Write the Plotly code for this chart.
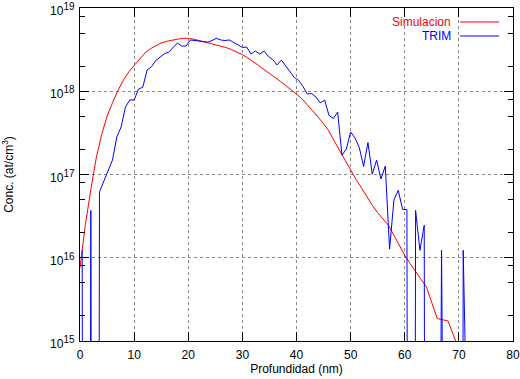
import plotly.graph_objects as go

# ---- data ----
sim_depth = [0, 1, 2, 3, 4, 5, 6, 7, 8, 9, 10, 11, 12, 13, 14, 15, 16, 17, 18, 19,
             20, 21, 22, 23, 24, 25, 26, 27, 28, 29, 30, 31, 32, 33, 34, 35, 36, 37, 38, 39,
             40, 41, 42, 43, 44, 45, 46, 47, 48, 49, 50, 51, 52, 53, 54, 55, 56, 57, 58, 59,
             60, 61, 62, 63, 64, 65, 66, 67, 68, 69, 70]
sim_conc = [7.59e15, 2.51e16, 6.61e16, 1.58e17, 3.02e17, 5.01e17, 7.24e17, 1.02e18, 1.35e18, 1.70e18,
            2.04e18, 2.45e18, 2.88e18, 3.24e18, 3.55e18, 3.80e18, 3.98e18, 4.12e18, 4.22e18, 4.32e18,
            4.32e18, 4.22e18, 4.07e18, 3.94e18, 3.80e18, 3.67e18, 3.51e18, 3.35e18, 3.16e18, 2.95e18,
            2.75e18, 2.51e18, 2.29e18, 2.04e18, 1.82e18, 1.64e18, 1.48e18, 1.32e18, 1.17e18, 1.05e18,
            9.23e17, 8.13e17, 6.92e17, 5.89e17, 4.90e17, 4.07e17, 3.31e17, 2.51e17, 1.91e17, 1.51e17,
            1.12e17, 8.71e16, 6.92e16, 5.37e16, 4.27e16, 3.47e16, 2.95e16, 2.45e16, 1.86e16, 1.38e16,
            1.07e16, 8.51e15, 6.76e15, 5.50e15, 4.47e15, 2.82e15, 1.86e15, 1.80e15, 1.74e15, 1.17e15,
            7.94e14]

trim_depth = [0.4, 1.2, 2.0, 2.8, 3.6, 4.4, 5.2, 6.0, 6.8, 7.6, 8.4, 9.2, 10.0, 10.8, 11.6, 12.4,
              13.2, 14.0, 14.8, 15.6, 16.4, 17.2, 18.0, 18.8, 19.6, 20.4, 21.2, 22.0, 22.8, 23.6,
              24.4, 25.2, 26.0, 26.8, 27.6, 28.4, 29.2, 30.0, 30.8, 31.6, 32.4, 33.2, 34.0, 34.8,
              35.6, 36.4, 37.2, 38.0, 38.8, 39.6, 40.4, 41.2, 42.0, 42.8, 43.6, 44.4, 45.2, 46.0,
              46.8, 47.6, 48.4, 49.2, 50.0, 50.8, 51.6, 52.4, 53.2, 54.0, 54.8, 55.6, 56.4, 57.2,
              58.0, 58.8, 59.6, 60.4, 61.2, 62.0, 62.8, 63.6, 64.4, 65.2, 66.0, 66.8, 67.6, 68.4,
              69.2, 70.0, 70.8, 71.6, 72.4, 73.2, 74.0, 74.8, 75.6, 76.4, 77.2, 78.0, 78.8, 79.6]
trim_conc = [1.23e16, 0, 3.7e16, 0, 6.2e16, 8.3e16, 1.08e17, 1.49e17, 2.82e17, 3.72e17, 6.46e17, 7.85e17,
             7.85e17, 1.06e18, 1.12e18, 1.80e18, 1.97e18, 2.34e18, 2.57e18, 2.82e18, 2.95e18, 3.39e18,
             3.80e18, 3.49e18, 3.49e18, 4.13e18, 4.07e18, 4.02e18, 4.02e18, 3.89e18, 4.07e18, 4.33e18,
             4.13e18, 4.07e18, 4.13e18, 3.85e18, 3.55e18, 3.36e18, 3.39e18, 2.80e18, 3.04e18, 2.80e18,
             3.04e18, 2.63e18, 2.40e18, 2.07e18, 2.37e18, 2.01e18, 1.70e18, 1.46e18, 1.35e18, 1.14e18,
             9.27e17, 9.40e17, 8.51e17, 7.24e17, 7.85e17, 5.13e17, 4.71e17, 5.62e17, 1.71e17, 2.02e17,
             3.24e17, 2.75e17, 2.11e17, 1.25e17, 2.42e17, 1.01e17, 1.49e17, 8.83e16, 1.26e17, 1.27e16,
             4.94e16, 6.46e16, 3.8e16, 3.8e16, 0, 3.7e16, 1.23e16, 2.46e16, 0, 0, 0, 1.23e16,
             0, 0, 0, 0, 1.23e16, 0, 0, 0, 0, 0, 0, 0, 0, 0, 0, 0]

x_ticks = [0, 10, 20, 30, 40, 50, 60, 70, 80]
y_exponents = [15, 16, 17, 18, 19]
y_ticks = [10.0 ** e for e in y_exponents]
y_ticktext = ["10<sup><span style='font-size:10px'>%d</span></sup>" % e for e in y_exponents]
y_minor = [m * 10.0 ** e for e in range(15, 19) for m in (2, 5, 8)]

series_names = ["Simulacion", "TRIM"]
series_colors = ["#ff0000", "#0000ff"]

# zero counts on a log axis: send them far below the visible range (lines drop to the bottom)
trim_plot = [v if v > 0 else 1e-12 for v in trim_conc]

FONT = "Liberation Sans, Arial, Helvetica, sans-serif"
FS = 12

fig = go.Figure()
fig.add_trace(go.Scatter(x=sim_depth, y=sim_conc, mode="lines", name=series_names[0],
                         line=dict(color=series_colors[0], width=1), showlegend=False))
fig.add_trace(go.Scatter(x=trim_depth, y=trim_plot, mode="lines", name=series_names[1],
                         line=dict(color=series_colors[1], width=1), showlegend=False))

axis_common = dict(showline=True, linecolor="black", linewidth=1, mirror="allticks",
                   ticks="inside", ticklen=9, tickwidth=1, tickcolor="black",
                   showgrid=True, gridcolor="#888888", griddash="dot", gridwidth=1,
                   zeroline=False, automargin=False, ticklabeloverflow="allow",
                   tickfont=dict(family=FONT, size=FS, color="black"))

fig.update_xaxes(range=[0, 80], tickmode="array", tickvals=x_ticks,
                 ticktext=[str(v) for v in x_ticks], ticklabelstandoff=3,
                 title=dict(text="Profundidad (nm)", font=dict(family=FONT, size=FS, color="black"),
                            standoff=3),
                 **axis_common)
fig.update_yaxes(type="log", range=[15, 19], tickmode="array", tickvals=y_ticks,
                 ticktext=y_ticktext, ticklabelstandoff=2, ticklabelshift=3,
                 minor=dict(tickmode="array", tickvals=y_minor, ticks="inside", ticklen=5,
                            tickcolor="black", showgrid=False),
                 title=dict(text="Conc. (at/cm<sup>3</sup>)", font=dict(family=FONT, size=FS, color="black"),
                            standoff=34),
                 **axis_common)

# legend (gnuplot style: text then sample line)
legend_y = [0.958, 0.916]
fig.add_shape(type="rect", xref="paper", yref="paper", x0=0.71, x1=0.99, y0=0.896, y1=1.0,
              fillcolor="white", line=dict(width=0), layer="between")
for name, col, yy in zip(series_names, series_colors, legend_y):
    fig.add_annotation(xref="paper", yref="paper", x=0.859, y=yy, text=name, showarrow=False,
                       xanchor="right", yanchor="middle", height=12, borderpad=0,
                       font=dict(family=FONT, size=FS, color=col))
    fig.add_shape(type="line", xref="paper", yref="paper", x0=0.878, x1=0.968, y0=yy, y1=yy,
                  line=dict(color=col, width=1))

fig.update_layout(width=520, height=379, margin=dict(l=80, r=7, t=8, b=38),
                  plot_bgcolor="white", paper_bgcolor="white",
                  font=dict(family=FONT, size=FS, color="black"))

# remove the browser's default 8px body margin so the figure sits at the page origin
fig.write_html("out.html", config={"displayModeBar": False},
               post_script="document.body.style.margin='0';")
